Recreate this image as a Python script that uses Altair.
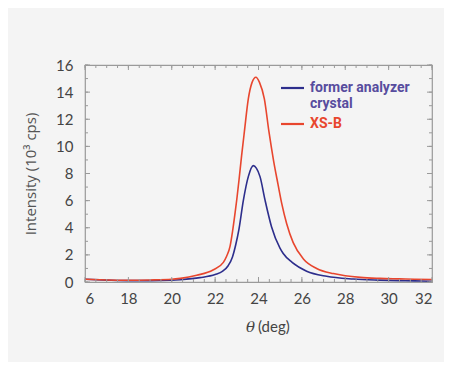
import altair as alt
import pandas as pd

# ---- data ----
theta_red = [16.0, 17.0, 18.0, 19.0, 20.0, 20.4, 21.15, 21.9, 22.38, 22.53, 22.69, 22.8, 22.92,
             23.0, 23.1, 23.22, 23.35, 23.53, 23.7, 23.88, 24.05, 24.27, 24.48, 24.7, 24.9,
             25.07, 25.3, 25.6, 26.07, 26.68, 27.45, 28.0, 28.7, 29.6, 30.5, 31.2, 32.0]
int_red = [0.2, 0.15, 0.13, 0.15, 0.2, 0.27, 0.5, 0.88, 1.45, 1.9, 2.65, 3.7, 5.1,
           6.1, 7.5, 9.3, 11.1, 13.5, 14.7, 15.1, 14.7, 13.5, 11.1, 8.9, 7.2,
           5.8, 4.3, 2.9, 1.7, 1.0, 0.62, 0.46, 0.34, 0.27, 0.23, 0.2, 0.18]

theta_blue = [16.0, 17.0, 18.0, 19.0, 20.0, 20.4, 21.3, 22.0, 22.35, 22.6, 22.8, 22.95, 23.1, 23.3,
              23.53, 23.76, 23.9, 24.07, 24.3, 24.6, 24.99, 25.14, 25.55, 26.22, 27.14,
              28.37, 29.5, 30.5, 31.2, 32.0]
int_blue = [0.2, 0.14, 0.1, 0.1, 0.13, 0.17, 0.32, 0.55, 0.8, 1.2, 1.85, 2.75, 3.9, 6.0,
            7.77, 8.58, 8.4, 7.77, 6.05, 4.08, 2.5, 2.1, 1.45, 0.8, 0.42,
            0.22, 0.14, 0.1, 0.08, 0.06]

series_names = ["former analyzer crystal", "XS-B"]
series_colors = ["#2d2e8c", "#e8462e"]
legend_text_colors = ["#574c9e", "#e8462e"]

x_major = [16, 18, 20, 22, 24, 26, 28, 30, 32]
x_minor = [16 + 0.5 * i for i in range(33)]
y_major = [0, 2, 4, 6, 8, 10, 12, 14, 16]
y_minor = list(range(17))

FONT = "Lato"
BG = "#f4f4f4"
W, H = 347, 217

df = pd.concat([
    pd.DataFrame({"theta": theta_blue, "intensity": int_blue, "series": series_names[0]}),
    pd.DataFrame({"theta": theta_red, "intensity": int_red, "series": series_names[1]}),
])

xs = alt.Scale(domain=[16, 32], nice=False, zero=False)
ys = alt.Scale(domain=[0, 16], nice=False, zero=False)

xaxis = alt.Axis(values=x_major, labelExpr="datum.value == 16 ? '6' : datum.label",
                 ticks=False, domain=False, grid=False, title=None,
                 labelPadding=9, labelFontSize=15, labelColor="#444", labelFont=FONT)
yaxis = alt.Axis(values=y_major, ticks=False, domain=False, grid=False,
                 title="Intensity (10³ cps)", titleFontSize=15, titleFontWeight="normal",
                 titleColor="#555", titleFont="Open Sans", titlePadding=17,
                 labelPadding=12, labelFontSize=15, labelColor="#444", labelFont=FONT)

lines = alt.Chart(df).mark_line(strokeWidth=1.6, interpolate="monotone").encode(
    x=alt.X("theta:Q", scale=xs, axis=xaxis),
    y=alt.Y("intensity:Q", scale=ys, axis=yaxis),
    color=alt.Color("series:N", scale=alt.Scale(domain=series_names, range=series_colors), legend=None),
    order=alt.Order("theta:Q"),
)

tick_col = "#9a9a9a"
xmin_df = pd.DataFrame({"theta": x_minor})
xmaj_df = pd.DataFrame({"theta": x_major})
ymin_df = pd.DataFrame({"intensity": y_minor})
ymaj_df = pd.DataFrame({"intensity": y_major})

def xticks(d, ln):
    b = alt.Chart(d).mark_rule(color=tick_col, strokeWidth=1).encode(
        x=alt.X("theta:Q", scale=xs, axis=xaxis), y=alt.value(H), y2=alt.value(H - ln))
    t = alt.Chart(d).mark_rule(color=tick_col, strokeWidth=1).encode(
        x=alt.X("theta:Q", scale=xs, axis=xaxis), y=alt.value(0), y2=alt.value(ln))
    return [b, t]

def yticks(d, ln):
    l = alt.Chart(d).mark_rule(color=tick_col, strokeWidth=1).encode(
        y=alt.Y("intensity:Q", scale=ys, axis=yaxis), x=alt.value(0), x2=alt.value(ln))
    r = alt.Chart(d).mark_rule(color=tick_col, strokeWidth=1).encode(
        y=alt.Y("intensity:Q", scale=ys, axis=yaxis), x=alt.value(W), x2=alt.value(W - ln))
    return [l, r]

ticks = xticks(xmin_df, 3) + xticks(xmaj_df, 5) + yticks(ymin_df, 3) + yticks(ymaj_df, 5)

LFONT = "Roboto"
one = pd.DataFrame({"a": [0]})
leg_blue_line = alt.Chart(one).mark_rule(color=series_colors[0], strokeWidth=2.2).encode(
    x=alt.value(196), x2=alt.value(219), y=alt.value(23))
leg_red_line = alt.Chart(one).mark_rule(color=series_colors[1], strokeWidth=2.2).encode(
    x=alt.value(196), x2=alt.value(219), y=alt.value(59))
leg_t1 = alt.Chart(one).mark_text(align="left", baseline="middle", font=LFONT, fontSize=14,
                                  fontWeight="bold", color=legend_text_colors[0]).encode(
    x=alt.value(225), y=alt.value(23), text=alt.value("former analyzer"))
leg_t2 = alt.Chart(one).mark_text(align="left", baseline="middle", font=LFONT, fontSize=14,
                                  fontWeight="bold", color=legend_text_colors[0]).encode(
    x=alt.value(225), y=alt.value(39), text=alt.value("crystal"))
leg_t3 = alt.Chart(one).mark_text(align="left", baseline="middle", font=LFONT, fontSize=14,
                                  fontWeight="bold", color=legend_text_colors[1]).encode(
    x=alt.value(225), y=alt.value(59), text=alt.value("XS-B"))

xt1 = alt.Chart(one).mark_text(align="right", baseline="middle", font="DejaVu Serif", fontSize=15,
                               fontStyle="italic", color="#444").encode(
    x=alt.value(170), y=alt.value(262), text=alt.value("θ"))
xt2 = alt.Chart(one).mark_text(align="left", baseline="middle", font=FONT, fontSize=15,
                               color="#444").encode(
    x=alt.value(173), y=alt.value(262), text=alt.value("(deg)"))

chart = alt.layer(lines, *ticks, leg_blue_line, leg_red_line, leg_t1, leg_t2, leg_t3, xt1, xt2).properties(
    width=W, height=H,
    autosize=alt.AutoSizeParams(type="none"),
    padding={"left": 77, "top": 57, "right": 12, "bottom": 80},
    background=BG,
).configure_view(stroke="#9a9a9a", strokeWidth=1.2)

chart.save("out.html", embed_options={"renderer": "svg", "actions": False})
